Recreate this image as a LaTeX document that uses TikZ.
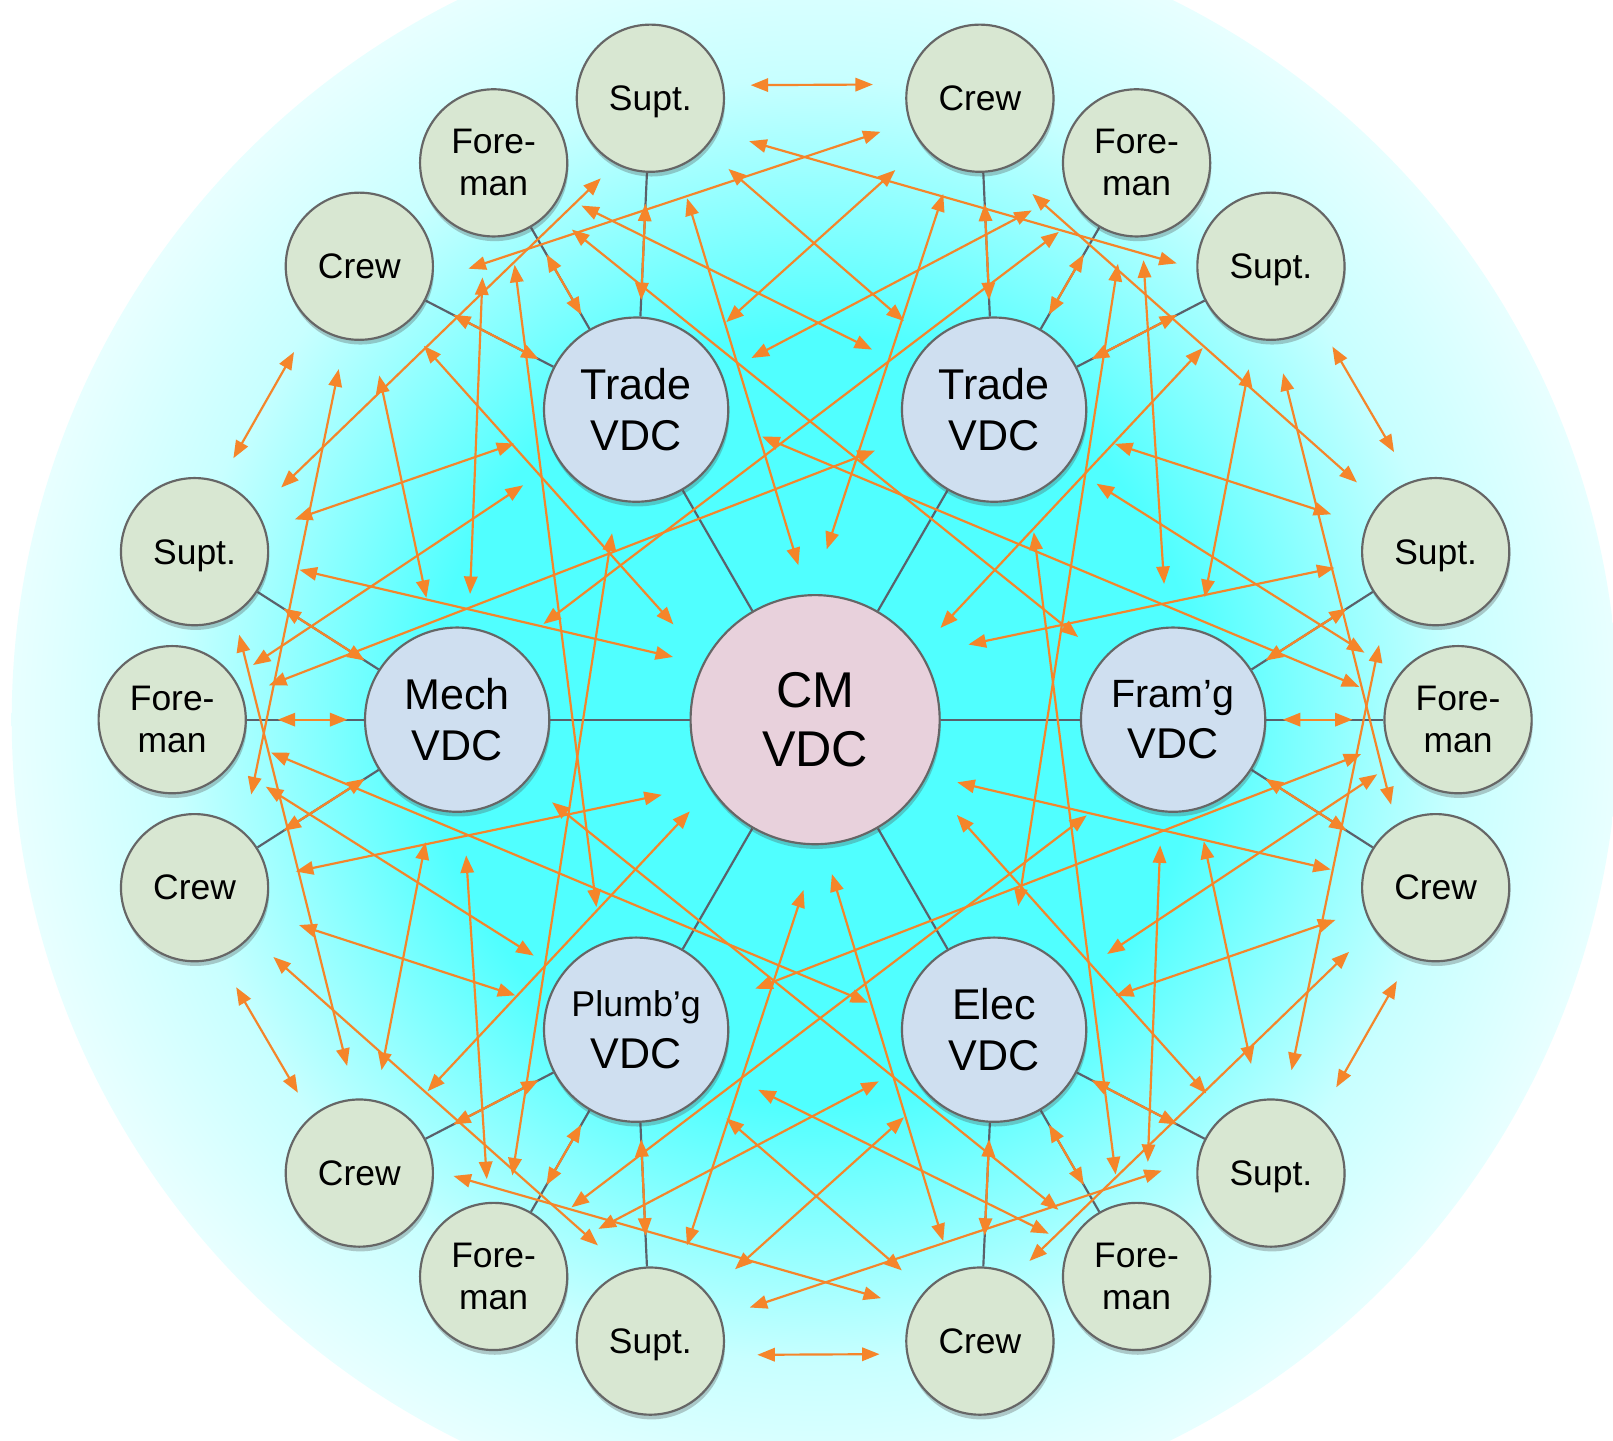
\documentclass[tikz,border=0pt]{standalone}
\usepackage{fontspec}
\setmainfont{Liberation Sans}
\usetikzlibrary{arrows.meta,shadows}
\definecolor{ogreen}{HTML}{D8E7D2}
\definecolor{vblue}{HTML}{CFDFF0}
\definecolor{cmpink}{HTML}{E8D1DC}
\definecolor{bord}{HTML}{666666}
\definecolor{glin}{HTML}{5A616B}
\definecolor{orng}{HTML}{F5852A}
\definecolor{bgc}{RGB}{80,255,255}
\definecolor{bgm}{RGB}{160,255,255}
\definecolor{bgl}{RGB}{200,255,255}
\definecolor{bge}{RGB}{232,255,255}
\pgfdeclareradialshading{bgshade}{\pgfpoint{0bp}{0bp}}{color(0bp)=(bgc); color(12bp)=(bgc); color(17.3bp)=(bgm); color(20bp)=(bgl); color(25bp)=(bge); color(50bp)=(bge)}
\pgfdeclarelayer{bg}
\pgfdeclarelayer{mid}
\pgfsetlayers{bg,mid,main}
\newcommand\suptlabel{\raisebox{0pt}[\height][0pt]{Supt.}}
\begin{document}
\begin{tikzpicture}[x=0.01cm,y=0.01cm,
  shad/.style={drop shadow={shadow xshift=0.3pt,shadow yshift=-1.3pt,opacity=0.3,fill=black!70}},
  person/.style={circle,draw=bord,line width=0.6pt,fill=ogreen,minimum size=1.43cm,inner sep=0pt,align=center,font=\fontsize{9.8}{11.6}\selectfont,shad},
  vdcnode/.style={circle,draw=bord,line width=0.6pt,fill=vblue,minimum size=1.79cm,inner sep=0pt,align=center,font=\fontsize{11.9}{14.2}\selectfont,shad},
  cmnode/.style={circle,draw=bord,line width=0.6pt,fill=cmpink,minimum size=2.42cm,inner sep=0pt,align=center,font=\fontsize{13.9}{16.1}\selectfont,shad},
  gline/.style={draw=glin,line width=0.6pt},
  oarr/.style={draw=orng,line width=0.6pt,arrows={Triangle[length=0.17cm,width=0.13cm,fill=orng]-Triangle[length=0.17cm,width=0.13cm,fill=orng]}}
]
\useasboundingbox (-792.4,-700.4) rectangle (775.6,699.6);
\begin{pgfonlayer}{bg}
\begin{scope}
\clip (-792.4,-700.4) rectangle (775.6,699.6);
\fill[white] (-792.4,-700.4) rectangle (775.6,699.6);
\shade[shading=bgshade] (0,0) circle (781);
\end{scope}
\end{pgfonlayer}

% central and trade nodes
\node[cmnode] (cm) at (0,0) {CM\\VDC};
\node[vdcnode] (v1) at (120:348) {Trade\\VDC};
\node[vdcnode] (v2) at (60:348) {Trade\\VDC};
\node[vdcnode] (v3) at (180:348) {Mech\\VDC};
\node[vdcnode] (v4) at (0:348) {{\fontsize{10.9}{14.2}\selectfont Fram’g}\\VDC};
\node[vdcnode] (v5) at (240:348) {{\fontsize{9.9}{14.2}\selectfont Plumb’g}\\VDC};
\node[vdcnode] (v6) at (300:348) {Elec\\VDC};

% team members
\node[person] (s1) at (104.85:625) {\suptlabel};
\node[person] (f1) at (120:625) {Fore-\\man};
\node[person] (c1) at (135.15:625) {Crew};
\node[person] (c2) at (75.15:625) {Crew};
\node[person] (f2) at (60:625) {Fore-\\man};
\node[person] (s2) at (44.85:625) {\suptlabel};
\node[person] (s3) at (164.85:625) {\suptlabel};
\node[person] (f3) at (180:625) {Fore-\\man};
\node[person] (c3) at (195.15:625) {Crew};
\node[person] (s4) at (15.15:625) {\suptlabel};
\node[person] (f4) at (0:625) {Fore-\\man};
\node[person] (c4) at (-15.15:625) {Crew};
\node[person] (c5) at (224.85:625) {Crew};
\node[person] (f5) at (240:625) {Fore-\\man};
\node[person] (s5) at (255.15:625) {\suptlabel};
\node[person] (c6) at (284.85:625) {Crew};
\node[person] (f6) at (300:625) {Fore-\\man};
\node[person] (s6) at (315.15:625) {\suptlabel};

\begin{pgfonlayer}{mid}
\foreach \i in {1,...,6} \draw[gline] (cm) -- (v\i);
\foreach \p/\v in {s1/v1,f1/v1,c1/v1,c2/v2,f2/v2,s2/v2,s3/v3,f3/v3,c3/v3,s4/v4,f4/v4,c4/v4,c5/v5,f5/v5,s5/v5,c6/v6,f6/v6,s6/v6}{
  \draw[gline] (\p) -- (\v);
  \draw[oarr,shorten <=0.30cm,shorten >=0.16cm] (\p) -- (\v);
}
\foreach \k in {0,...,5}{
  \begin{scope}[rotate=60*\k]
    \draw[oarr] (95.8:620) -- (84.8:620);
    \draw[oarr] (96.5:566) -- (51.6:566);
    \draw[oarr] (127.55:553) -- (83.65:575);
    \draw[oarr] (98.95:542) -- (77.45:397);
    \draw[oarr] (81.7:540) -- (102.6:396);
    \draw[oarr] (114.45:549) -- (81.25:364);
    \draw[oarr] (99.98:357) -- (66.95:538);
    \draw[oarr] (103.8:522) -- (96.2:151);
    \draw[oarr] (76.3:526) -- (86.1:166);
    \draw[oarr] (116.4:532) -- (17.45:268);
    \draw[oarr] (63.45:530) -- (160.6:280);
  \end{scope}
}
\end{pgfonlayer}
\end{tikzpicture}
\end{document}
